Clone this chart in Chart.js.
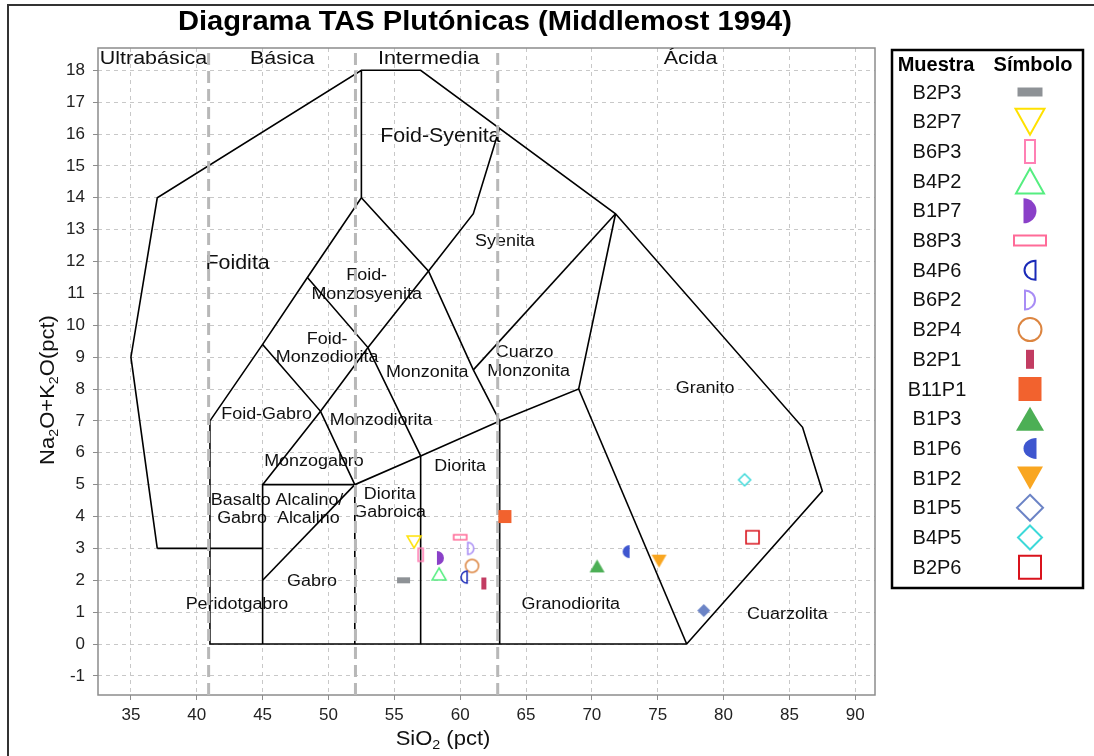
<!DOCTYPE html>
<html>
<head>
<meta charset="utf-8">
<script src="https://cdn.jsdelivr.net/npm/chart.js@4.4.1/dist/chart.umd.min.js"></script>
<style>
  body { margin: 0; background: #fff; }
</style>
</head>
<body>
<canvas id="tas" width="1094" height="756"></canvas>
<script>
// samples (SiO2 vs Na2O+K2O)
const sampleNames = ["B2P3", "B2P7", "B6P3", "B4P2", "B1P7", "B8P3", "B4P6", "B6P2", "B2P4",
  "B2P1", "B11P1", "B1P3", "B1P6", "B1P2", "B1P5", "B4P5", "B2P6"];
const sampleSiO2 = [55.7, 56.5, 57.0, 58.4, 58.5, 60.0, 60.3, 60.8, 60.9, 61.8, 63.4, 70.4, 72.6, 75.1, 78.5, 81.6, 82.2];
const sampleAlk = [2.0, 3.2, 2.8, 2.2, 2.7, 3.35, 2.1, 3.0, 2.45, 1.9, 4.0, 2.45, 2.9, 2.6, 1.05, 5.15, 3.35];

const xTicks = [35, 40, 45, 50, 55, 60, 65, 70, 75, 80, 85, 90];
const yTicks = [-1, 0, 1, 2, 3, 4, 5, 6, 7, 8, 9, 10, 11, 12, 13, 14, 15, 16, 17, 18];

// field boundaries, Middlemost (1994) plutonic TAS
const fieldLines = [
  [[37, 3], [35, 9], [37, 14], [52.5, 18], [57, 18], [71.8, 13.5], [86, 6.8], [87.5, 4.8], [77.2, 0],
   [41, 0], [41, 7], [45, 9.4], [48.4, 11.5], [52.5, 14], [52.5, 18]],
  [[37, 3], [45, 3]],
  [[45, 0], [45, 5], [52, 5]],
  [[45, 2], [52, 5]],
  [[52, 0], [52, 5], [57, 5.9], [63, 7], [69, 8], [71.8, 13.5]],
  [[57, 0], [57, 5.9]],
  [[63, 0], [63, 7]],
  [[69, 8], [77.2, 0]],
  [[45, 5], [49.4, 7.3], [53, 9.3], [57.6, 11.7], [61, 13.5], [63, 16.2]],
  [[45, 9.4], [49.4, 7.3], [52, 5]],
  [[48.4, 11.5], [53, 9.3], [57, 5.9]],
  [[52.5, 14], [57.6, 11.7], [61, 8.6], [63, 7]],
  [[61, 8.6], [71.8, 13.5]]
];
// silica divisions
const silicaLimits = [40.9, 52.05, 62.85];

// field names
const labelText = ["Foidita", "Foid-Syenita", "Syenita", "Foid-", "Monzosyenita", "Foid-", "Monzodiorita",
  "Monzonita", "Cuarzo", "Monzonita", "Granito", "Foid-Gabro", "Monzodiorita", "Monzogabro", "Diorita",
  "Basalto Alcalino/", "Gabro  Alcalino", "Diorita", "Gabroica", "Gabro", "Peridotgabro", "Granodiorita", "Cuarzolita"];
const labelX = [43.1, 58.5, 63.4, 52.9, 52.9, 49.9, 49.9, 57.5, 64.9, 65.2, 78.6, 45.3, 54.0, 48.9, 60.0,
  46.1, 46.2, 54.65, 54.65, 48.75, 43.05, 68.4, 84.85];
const labelY = [11.94, 15.93, 12.63, 11.56, 10.96, 9.55, 8.98, 8.5, 9.15, 8.55, 8.01, 7.19, 7.02, 5.71, 5.57,
  4.49, 3.92, 4.7, 4.11, 1.96, 1.23, 1.23, 0.91];
const labelBig = ["Foidita", "Foid-Syenita"];

const groupText = ["Ultrabásica", "Básica", "Intermedia", "Ácida"];
const groupX = [36.71, 46.48, 57.61, 77.49];

const FONT = "'Liberation Sans', Arial, sans-serif";

// marker look for each sample: plot size and legend size
const markers = [
  { shape: "rect", w: 13, h: 6, lw2: [25, 9], color: "#8e9296", fill: true },
  { shape: "triDown", w: 14, h: 12, lw2: [29, 26], color: "#ffe100", fill: false },
  { shape: "rect", w: 5, h: 13, lw2: [10, 23], color: "#ff80b4", fill: false },
  { shape: "triUp", w: 14, h: 12, lw2: [28, 25], color: "#55ee80", fill: false },
  { shape: "halfR", w: 7, h: 14, lw2: [13, 25], color: "#8a40c8", fill: true },
  { shape: "rect", w: 13, h: 5, lw2: [32, 10], color: "#ff6b98", fill: false },
  { shape: "halfL", w: 6, h: 12, lw2: [11, 19], color: "#1a2ab8", fill: false },
  { shape: "halfR", w: 6, h: 12, lw2: [10, 19], color: "#a88cf5", fill: false },
  { shape: "circle", w: 13, h: 13, lw2: [23, 23], color: "#dc8540", fill: false },
  { shape: "rect", w: 5, h: 12, lw2: [8, 19], color: "#c23c62", fill: true },
  { shape: "rect", w: 13, h: 13, lw2: [23, 24], color: "#f2622e", fill: true },
  { shape: "triUp", w: 15, h: 13, lw2: [28, 24], color: "#4caf55", fill: true },
  { shape: "halfL", w: 7, h: 13, lw2: [13, 21], color: "#3e56cf", fill: true },
  { shape: "triDown", w: 15, h: 13, lw2: [26, 23], color: "#f9a620", fill: true },
  { shape: "diamond", w: 13, h: 13, lw2: [26, 26], color: "#6c84c6", fill: true, legendFill: false },
  { shape: "diamond", w: 12, h: 12, lw2: [24, 24], color: "#3dd9d9", fill: false },
  { shape: "rect", w: 13, h: 13, lw2: [22, 23], color: "#d9131c", fill: false }
];

function drawShape(ctx, m, cx, cy, w, h, fill, lw) {
  ctx.save();
  ctx.beginPath();
  if (m.shape === "rect") {
    ctx.rect(cx - w / 2, cy - h / 2, w, h);
  } else if (m.shape === "triUp") {
    ctx.moveTo(cx, cy - h / 2); ctx.lineTo(cx + w / 2, cy + h / 2); ctx.lineTo(cx - w / 2, cy + h / 2); ctx.closePath();
  } else if (m.shape === "triDown") {
    ctx.moveTo(cx - w / 2, cy - h / 2); ctx.lineTo(cx + w / 2, cy - h / 2); ctx.lineTo(cx, cy + h / 2); ctx.closePath();
  } else if (m.shape === "circle") {
    ctx.arc(cx, cy, w / 2, 0, Math.PI * 2);
  } else if (m.shape === "diamond") {
    ctx.moveTo(cx, cy - h / 2); ctx.lineTo(cx + w / 2, cy); ctx.lineTo(cx, cy + h / 2); ctx.lineTo(cx - w / 2, cy); ctx.closePath();
  } else if (m.shape === "halfR") {
    ctx.ellipse(cx - w / 2, cy, w, h / 2, 0, -Math.PI / 2, Math.PI / 2); ctx.closePath();
  } else if (m.shape === "halfL") {
    ctx.ellipse(cx + w / 2, cy, w, h / 2, 0, Math.PI / 2, Math.PI * 1.5); ctx.closePath();
  }
  if (fill) {
    ctx.fillStyle = m.color; ctx.fill();
  } else {
    ctx.strokeStyle = m.color; ctx.lineWidth = lw; ctx.stroke();
  }
  ctx.restore();
}

function markerCanvas(m) {
  const c = document.createElement("canvas");
  c.width = m.w + 4; c.height = m.h + 4;
  drawShape(c.getContext("2d"), m, c.width / 2, c.height / 2, m.w, m.h, m.fill, m.shape === "rect" && !m.fill ? 1.6 : 1.5);
  return c;
}

function stretchText(ctx, s, x, y, font, sx, align) {
  ctx.save();
  ctx.font = font;
  ctx.textBaseline = "middle";
  ctx.textAlign = align || "center";
  ctx.translate(x, y);
  ctx.scale(sx, 1);
  ctx.fillText(s, 0, 0);
  ctx.restore();
}

// text with subscripts, parts = [[text, isSub], ...]
function richText(ctx, parts, x, y, size, sx) {
  ctx.save();
  ctx.fillStyle = "#111";
  ctx.textBaseline = "alphabetic";
  ctx.translate(x, y);
  ctx.scale(sx, 1);
  let total = 0;
  parts.forEach(p => { ctx.font = (p[1] ? size * 0.65 : size) + "px " + FONT; total += ctx.measureText(p[0]).width; });
  let cx = -total / 2;
  parts.forEach(p => {
    ctx.font = (p[1] ? size * 0.65 : size) + "px " + FONT;
    ctx.textAlign = "left";
    ctx.fillText(p[0], cx, p[1] ? size * 0.55 : size * 0.35);
    cx += ctx.measureText(p[0]).width;
  });
  ctx.restore();
}

const datasets = [];
sampleNames.forEach((name, i) => {
  datasets.push({
    label: name,
    data: [{ x: sampleSiO2[i], y: sampleAlk[i] }],
    pointStyle: markerCanvas(markers[i]),
    pointRadius: 7,
    showLine: false,
    order: 0
  });
});
silicaLimits.forEach(v => {
  datasets.push({
    data: [{ x: v, y: -1.6 }, { x: v, y: 18.7 }],
    showLine: true, pointRadius: 0, borderColor: "#b8b8b8", borderWidth: 3, borderDash: [12, 6],
    order: 1
  });
});
fieldLines.forEach(line => {
  datasets.push({
    data: line.map(p => ({ x: p[0], y: p[1] })),
    showLine: true, pointRadius: 0, borderColor: "#000", borderWidth: 1.6, tension: 0,
    order: 2
  });
});

const tasExtras = {
  id: "tasExtras",
  beforeDraw(chart) {
    const ctx = chart.ctx;
    ctx.save();
    ctx.fillStyle = "#fff";
    ctx.fillRect(0, 0, chart.width, chart.height);
    ctx.strokeStyle = "#333";
    ctx.lineWidth = 2;
    ctx.strokeRect(8, 5, 1200, 900);
    ctx.restore();
  },
  beforeDatasetsDraw(chart) {
    const ctx = chart.ctx, a = chart.chartArea, xs = chart.scales.x, ys = chart.scales.y;
    ctx.save();
    ctx.strokeStyle = "#8c8c8c";
    ctx.lineWidth = 1.5;
    ctx.strokeRect(a.left, a.top, a.right - a.left, a.bottom - a.top);
    ctx.fillStyle = "#111";
    labelText.forEach((t, i) => {
      const big = labelBig.includes(t);
      stretchText(ctx, t, xs.getPixelForValue(labelX[i]), ys.getPixelForValue(labelY[i]),
        (big ? 21 : 16) + "px " + FONT, big ? 1.02 : 1.12);
    });
    groupText.forEach((t, i) => {
      stretchText(ctx, t, xs.getPixelForValue(groupX[i]), ys.getPixelForValue(18.37), "19px " + FONT, 1.13);
    });
    ctx.restore();
  },
  afterDraw(chart) {
    const ctx = chart.ctx;
    ctx.save();
    // title
    ctx.font = "bold 27px " + FONT;
    const tw = ctx.measureText("Diagrama TAS Plutónicas (Middlemost 1994)").width;
    ctx.fillStyle = "#000";
    stretchText(ctx, "Diagrama TAS Plutónicas (Middlemost 1994)", 485, 23, "bold 27px " + FONT, 614 / tw);
    // axis titles
    richText(ctx, [["SiO", false], ["2", true], [" (pct)", false]], 443, 738, 20, 1.1);
    ctx.save();
    ctx.translate(47, 390);
    ctx.rotate(-Math.PI / 2);
    richText(ctx, [["Na", false], ["2", true], ["O+K", false], ["2", true], ["O(pct)", false]], 0, 0, 20, 1.1);
    ctx.restore();
    // legend table
    ctx.strokeStyle = "#000";
    ctx.lineWidth = 2.5;
    ctx.strokeRect(892, 50, 191, 538);
    ctx.fillStyle = "#000";
    stretchText(ctx, "Muestra", 936, 65, "bold 20px " + FONT, 1.0);
    stretchText(ctx, "Símbolo", 1033, 65, "bold 20px " + FONT, 1.0);
    sampleNames.forEach((name, i) => {
      const y = 92 + i * 29.7;
      ctx.fillStyle = "#111";
      stretchText(ctx, name, 937, y + 1, "20px " + FONT, 1.0);
      const m = markers[i];
      const fill = m.legendFill === undefined ? m.fill : m.legendFill;
      drawShape(ctx, m, 1030, y, m.lw2[0], m.lw2[1], fill, 2);
    });
    ctx.restore();
  }
};

const tickFont = { family: FONT, size: 17 };
new Chart(document.getElementById("tas"), {
  type: "scatter",
  data: { datasets: datasets },
  options: {
    responsive: false,
    animation: false,
    events: [],
    layout: { padding: { left: 0, top: 48, right: 219, bottom: 0 } },
    plugins: { legend: { display: false }, tooltip: { enabled: false }, title: { display: false } },
    scales: {
      x: {
        type: "linear", min: 32.5, max: 91.5,
        afterBuildTicks: s => { s.ticks = xTicks.map(v => ({ value: v })); },
        afterFit: s => { s.height = 61; },
        grid: { color: "#c8c8c8", lineWidth: 1, tickLength: 5, tickColor: "#8c8c8c", tickBorderDash: [] },
        border: { display: false, dash: [4, 4] },
        ticks: { font: tickFont, color: "#222", padding: 5, maxRotation: 0 }
      },
      y: {
        type: "linear", min: -1.6, max: 18.7,
        afterBuildTicks: s => { s.ticks = yTicks.map(v => ({ value: v })); },
        afterFit: s => { s.width = 98; },
        grid: { color: "#c8c8c8", lineWidth: 1, tickLength: 5, tickColor: "#8c8c8c", tickBorderDash: [] },
        border: { display: false, dash: [4, 4] },
        ticks: { font: tickFont, color: "#222", padding: 8 }
      }
    }
  },
  plugins: [tasExtras]
});
</script>
</body>
</html>
